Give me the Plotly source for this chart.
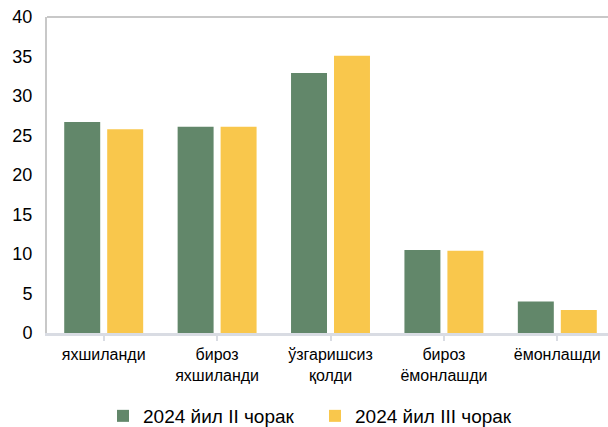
import plotly.graph_objects as go

categories = ["яхшиланди", "бироз<br>яхшиланди", "ўзгаришсиз<br>қолди", "бироз<br>ёмонлашди", "ёмонлашди"]
series_names = ["2024 йил II чорак", "2024 йил III чорак"]
q2_values = [26.7, 26.1, 32.9, 10.5, 4.0]
q3_values = [25.8, 26.1, 35.1, 10.4, 2.9]
y_ticks = [0, 5, 10, 15, 20, 25, 30, 35, 40]

FONT = "Liberation Sans, Arial, sans-serif"

fig = go.Figure()
fig.add_trace(go.Bar(x=list(range(len(categories))), y=q2_values, name=series_names[0],
                     marker=dict(color="#62876a", line=dict(width=0))))
fig.add_trace(go.Bar(x=list(range(len(categories))), y=q3_values, name=series_names[1],
                     marker=dict(color="#f9c74c", line=dict(width=0))))

fig.update_layout(
    width=608, height=427,
    margin=dict(l=47, r=0, t=17, b=94, autoexpand=False),
    paper_bgcolor="white", plot_bgcolor="white",
    barmode="group", bargap=0.242, bargroupgap=0.163,
    font=dict(family=FONT, color="black"),
    showlegend=True,
    legend=dict(orientation="h", xref="container", x=103 / 608, xanchor="left",
                yref="container", y=1 - 416 / 427, yanchor="middle",
                font=dict(size=19, family=FONT), entrywidth=167, entrywidthmode="pixels"),
    shapes=[dict(type="line", xref="paper", yref="paper", x0=0, x1=1, y0=1, y1=1,
                 line=dict(color="#c8c8c8", width=2))],
)
fig.update_xaxes(
    range=[-0.5, 4.447], tickmode="array", tickvals=list(range(len(categories))),
    ticktext=categories, tickfont=dict(size=16, family=FONT), automargin=False,
    showline=True, linecolor="#d9dce3", linewidth=3,
    ticks="outside", tickson="boundaries", ticklen=5, tickcolor="#d9dce3", tickwidth=2,
    ticklabelstandoff=0, showgrid=False, zeroline=False,
)
fig.update_yaxes(
    range=[0, 40], tickvals=y_ticks, tickfont=dict(size=18, family=FONT), automargin=False,
    showline=True, linecolor="#c8c8c8", linewidth=2, showgrid=False, zeroline=False,
    ticks="", ticklen=0, ticklabelstandoff=9,
)
fig.write_html("out.html", post_script="document.body.style.margin='0';",
               config={"displayModeBar": False})
